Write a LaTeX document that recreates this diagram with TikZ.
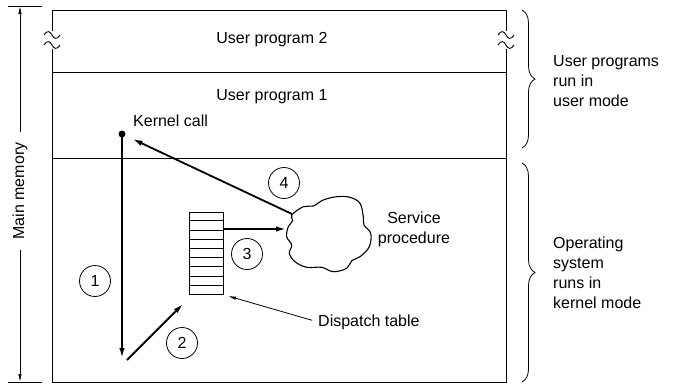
\documentclass[tikz,border=0pt]{standalone}
\usepackage{fontspec}
\setmainfont{Liberation Sans}
\usetikzlibrary{arrows.meta,decorations.pathreplacing,calc}
\begin{document}
\begin{tikzpicture}[x=1pt,y=-1pt,
  thinline/.style={line width=0.8pt},
  boxline/.style={line width=1pt},
  arr/.style={line width=1.8pt,-{Latex[length=10pt,width=5.5pt]}},
  thinarr/.style={line width=0.8pt,-{Latex[length=8pt,width=3.5pt]}},
  num/.style={circle,draw,line width=0.8pt,minimum size=31pt,inner sep=0pt},
  lbl/.style={inner sep=0pt},
  every node/.style={font=\fontsize{16}{20}\selectfont},
  wave/.pic={\draw[line width=0.9pt] (-8,0) .. controls (-5,-5) and (-2,-4) .. (0,0) .. controls (2,4) and (5,5) .. (8,0);}
]
\useasboundingbox (0,0) rectangle (673,384);

% main memory box
\draw[boxline] (52,31) -- (52,10) -- (506,10) -- (506,31);
\draw[boxline] (52,49) -- (52,382) -- (506,382) -- (506,49);
\pic at (52,35) {wave};
\pic at (52,45) {wave};
\pic at (506,35) {wave};
\pic at (506,45) {wave};
\draw[boxline] (52,72) -- (506,72);
\draw[boxline] (52,158) -- (506,158);

\node[lbl] (up2) at (272,40) {User program 2};
\node[lbl] (up1) at (272,97) {User program 1};

% main memory dimension
\node[lbl,rotate=90,inner xsep=10pt] (mm) at (20,191) {Main memory};
\coordinate (mmt) at (20,6);
\coordinate (mmb) at (20,382);
\draw[boxline] (8,6) -- (42,6);
\draw[boxline] (8,382) -- (42,382);
\draw[thinarr] (mm.east) -- (mmt);
\draw[thinarr] (mm.west) -- (mmb);

% kernel call
\node[circle,fill,inner sep=0pt,minimum size=7pt] (kc) at (122,134) {};
\node[lbl,anchor=west] (kct) at (133,121) {Kernel call};

% dispatch table
\node[draw,boxline,minimum width=34pt,minimum height=82pt,inner sep=0pt] (dt) at (206,253) {};
\foreach \i in {1,...,8}
  \draw[thinline] ($(dt.north west)!\i/9!(dt.south west)$) -- ($(dt.north east)!\i/9!(dt.south east)$);

% service procedure cloud
\draw[line width=1.1pt] plot[smooth cycle,tension=0.6] coordinates {
 (291.7,215) (303.3,206.7) (313.3,206) (323.3,200) (336.7,196.7) (350,197.3)
 (360,203.3) (363.3,216.7) (364,225) (370.7,233.3) (369.3,246.7) (360,256.7)
 (351.7,260.7) (346.7,268.3) (333.3,271.7) (321.7,267.3) (306.7,267.3) (295,261.7)
 (289.3,253.3) (291.7,245) (286.7,236.7) (288.3,226.7) (292.7,220.7)};
\coordinate (c3) at (286,229);
\coordinate (c4) at (292,214);
\node[lbl,align=center] (svt) at (414,229) {Service\\procedure};

% arrows
\coordinate (p1) at (122,358);
\coordinate (p2s) at (127,360);
\coordinate (p2e) at (183,304);
\draw[arr] (kc.center) -- (p1);
\draw[arr] (p2s) -- (p2e);
\draw[arr] (c3 -| dt.east) -- (c3);
\draw[arr,shorten >=8pt] (c4) -- (kc);

% numbered circles
\node[num] (n1) at (95,281) {1};
\node[num] (n2) at (182,343) {2};
\node[num] (n3) at (247,254) {3};
\node[num] (n4) at (284,183) {4};

% dispatch table label
\node[lbl,anchor=west] (dtl) at (318,322) {Dispatch table};
\coordinate (dtp) at (228,296);
\draw[thinarr,shorten <=6pt] (dtl.west) -- (dtp);

% braces
\draw[thinline,decorate,decoration={brace,amplitude=13pt}] (522,10) -- (522,148);
\draw[thinline,decorate,decoration={brace,amplitude=13pt}] (522,163) -- (522,382);
\node[lbl,anchor=west,align=left] (t1) at (553,81) {User programs\\run in\\user mode};
\node[lbl,anchor=west,align=left] (t2) at (553,273) {Operating\\system\\runs in\\kernel mode};
\end{tikzpicture}
\end{document}
